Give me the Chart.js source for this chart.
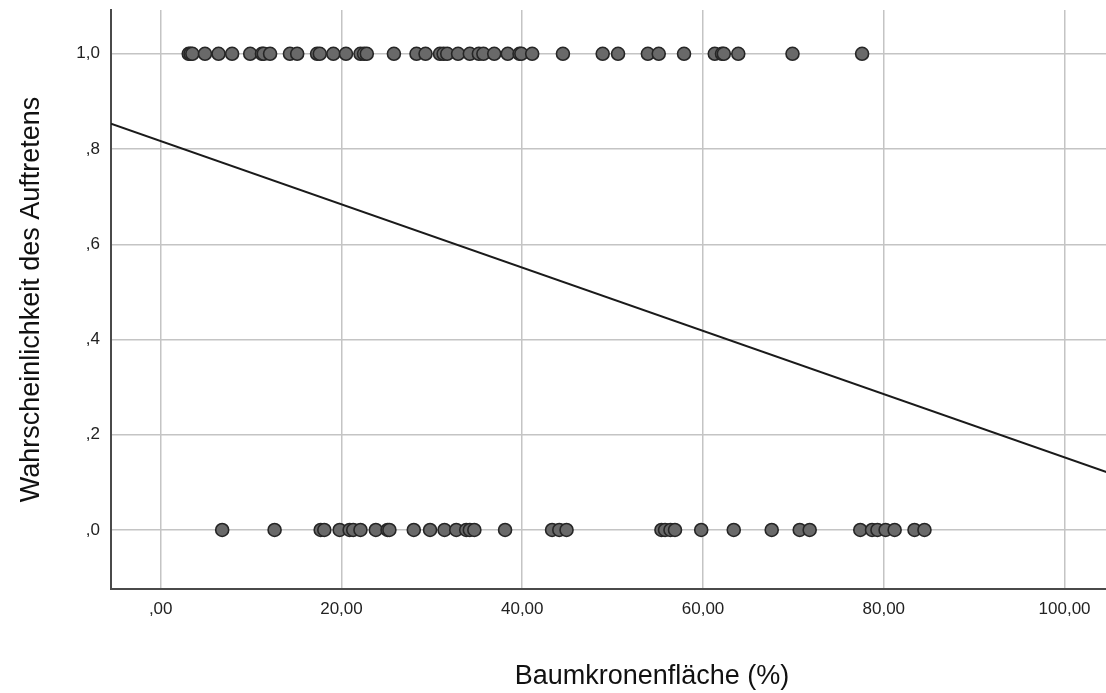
<!DOCTYPE html>
<html>
<head>
<meta charset="utf-8">
<script src="https://cdn.jsdelivr.net/npm/chart.js@4.4.1/dist/chart.umd.min.js"></script>
<style>
  html, body { margin: 0; padding: 0; background: #fff; }
  #wrap { width: 1106px; height: 693px; overflow: hidden; position: relative; }
  #chart { display: block; }
</style>
</head>
<body>
<div id="wrap"><canvas id="chart" width="1201" height="693" style="width:1201px;height:693px"></canvas></div>
<script>
  // Baumkronenfläche (%) of cases with Auftreten = 1
  const presentX = [
    3.1, 3.3, 3.5, 4.9, 6.4, 7.9, 9.9, 11.2, 11.4, 12.1, 14.3, 15.1, 17.3, 17.6,
    19.1, 20.5, 22.1, 22.5, 22.8, 25.8, 28.3, 29.3, 30.9, 31.3, 31.7, 32.9, 34.2,
    35.2, 35.7, 36.9, 38.4, 39.7, 39.9, 41.1, 44.5, 48.9, 50.6, 53.9, 55.1, 57.9,
    61.3, 62.1, 62.3, 63.9, 69.9, 77.6
  ];

  // Baumkronenfläche (%) of cases with Auftreten = 0
  const absentX = [
    6.8, 12.6, 17.7, 18.1, 19.8, 20.9, 21.3, 22.1, 23.8, 25.1, 25.3, 28.0, 29.8,
    31.4, 32.7, 33.8, 34.2, 34.7, 38.1, 43.3, 44.1, 44.9, 55.4, 55.8, 56.4, 56.9,
    59.8, 63.4, 67.6, 70.7, 71.8, 77.4, 78.7, 79.3, 80.2, 81.2, 83.4, 84.5
  ];

  // linear fit line, end points at the axis limits
  const fitX = [-5.5, 114.2];
  const fitY = [0.853, 0.058];

  const xTicks = [0, 20, 40, 60, 80, 100];
  const yTicks = [0, 0.2, 0.4, 0.6, 0.8, 1.0];

  const xTitle = "Baumkronenfläche (%)";
  const yTitle = "Wahrscheinlichkeit des Auftretens";

  const FONT = "'Liberation Sans', Arial, sans-serif";

  function fmtX(v) {
    return v.toFixed(2).replace(".", ",").replace(/^0,/, ",");
  }

  function fmtY(v) {
    return v.toFixed(1).replace(".", ",").replace(/^0,/, ",");
  }

  const pointStyle = {
    pointRadius: 6.5,
    pointHoverRadius: 6.5,
    pointBackgroundColor: "#696969",
    pointBorderColor: "#262626",
    pointBorderWidth: 1.6,
    showLine: false
  };

  new Chart(document.getElementById("chart"), {
    type: "scatter",
    data: {
      datasets: [
        {
          label: "fit",
          type: "line",
          data: fitX.map((x, i) => ({ x, y: fitY[i] })),
          borderColor: "#1a1a1a",
          borderWidth: 2,
          pointRadius: 0,
          fill: false,
          order: 0
        },
        {
          label: "1",
          data: presentX.map((x) => ({ x, y: 1 })),
          ...pointStyle,
          order: 1
        },
        {
          label: "0",
          data: absentX.map((x) => ({ x, y: 0 })),
          ...pointStyle,
          order: 1
        }
      ]
    },
    options: {
      responsive: false,
      animation: false,
      devicePixelRatio: 1,
      layout: {
        padding: { top: 10, right: 0, bottom: 0, left: 0 }
      },
      plugins: {
        legend: { display: false },
        tooltip: { enabled: false }
      },
      scales: {
        x: {
          type: "linear",
          min: -5.5,
          max: 114.2,
          afterBuildTicks(scale) {
            scale.ticks = xTicks.map((value) => ({ value }));
          },
          afterFit(scale) {
            scale.height = 104;
            scale.paddingLeft = 0;
            scale.paddingRight = 0;
          },
          grid: {
            color: "#c4c4c4",
            lineWidth: 1.5,
            drawTicks: false
          },
          border: {
            color: "#4a4a4a",
            width: 2
          },
          ticks: {
            padding: 10,
            color: "#222",
            font: { family: FONT, size: 17 },
            maxRotation: 0,
            callback(value) {
              return fmtX(value);
            }
          },
          title: {
            display: true,
            text: xTitle,
            color: "#111",
            font: { family: FONT, size: 27 },
            padding: { top: 0, bottom: 0 }
          }
        },
        y: {
          type: "linear",
          min: -0.124,
          max: 1.092,
          afterBuildTicks(scale) {
            scale.ticks = yTicks.map((value) => ({ value }));
          },
          afterFit(scale) {
            scale.width = 111;
            scale.paddingTop = 0;
            scale.paddingBottom = 0;
          },
          grid: {
            color: "#c4c4c4",
            lineWidth: 1.5,
            drawTicks: false
          },
          border: {
            color: "#4a4a4a",
            width: 2
          },
          ticks: {
            padding: 11,
            color: "#222",
            font: { family: FONT, size: 17 },
            callback(value) {
              return fmtY(value);
            }
          },
          title: {
            display: true,
            text: yTitle,
            color: "#111",
            font: { family: FONT, size: 27 },
            padding: { top: 15, bottom: 0 }
          }
        }
      }
    }
  });
</script>
</body>
</html>
